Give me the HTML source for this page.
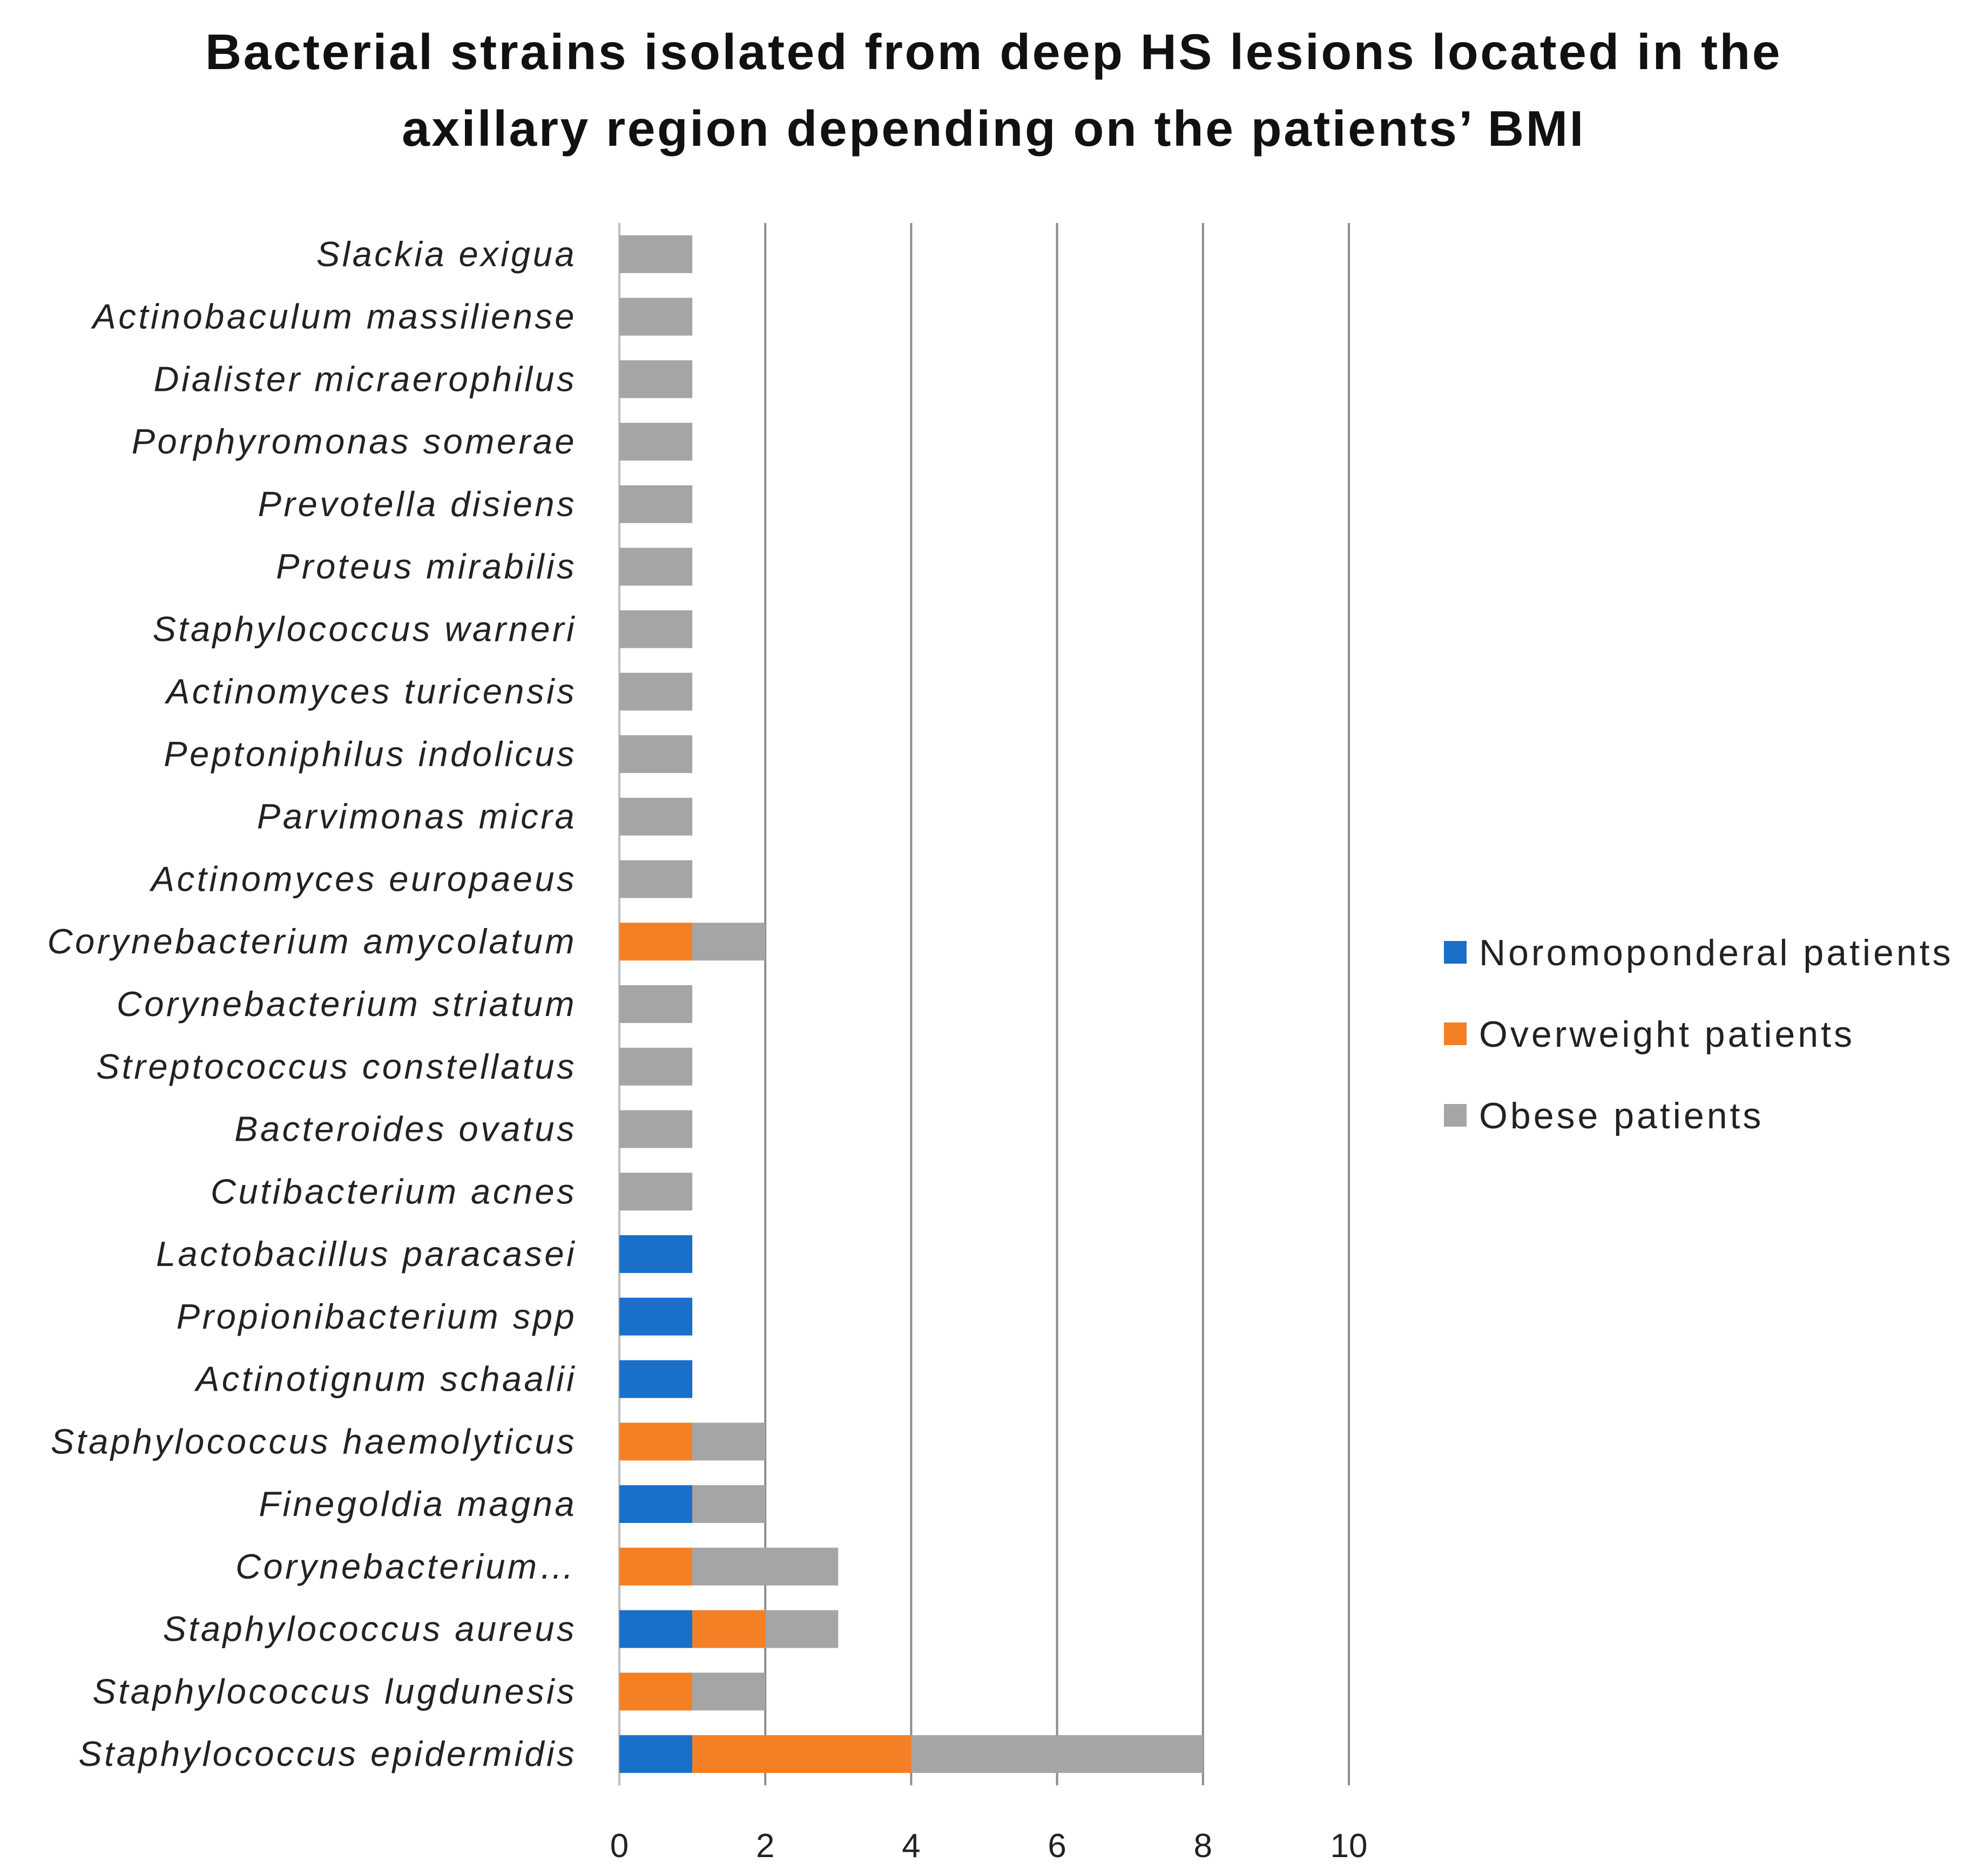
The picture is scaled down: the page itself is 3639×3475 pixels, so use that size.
<!DOCTYPE html>
<html><head><meta charset="utf-8"><style>
body{margin:0;background:#fff}
svg{display:block}
</style></head><body>
<svg id="chart" width="3639" height="3475" xmlns="http://www.w3.org/2000/svg">
<rect width="3639" height="3475" fill="#fff"/>
<text x="1840" y="128" text-anchor="middle" font-family="Liberation Sans, sans-serif" font-weight="bold" font-size="93" letter-spacing="3.5" fill="#111">Bacterial strains isolated from deep HS lesions located in the</text>
<text x="1840" y="270" text-anchor="middle" font-family="Liberation Sans, sans-serif" font-weight="bold" font-size="93" letter-spacing="3.5" fill="#111">axillary region depending on the patients’ BMI</text>
<g id="grid"></g><g id="bars"></g><g id="labels"></g><g id="ticks"></g>
<g id="legend"></g>
</svg>
<script>
const categories=["Slackia exigua","Actinobaculum massiliense","Dialister micraerophilus","Porphyromonas somerae","Prevotella disiens","Proteus mirabilis","Staphylococcus warneri","Actinomyces turicensis","Peptoniphilus indolicus","Parvimonas micra","Actinomyces europaeus","Corynebacterium amycolatum","Corynebacterium striatum","Streptococcus constellatus","Bacteroides ovatus","Cutibacterium acnes","Lactobacillus paracasei","Propionibacterium spp","Actinotignum schaalii","Staphylococcus haemolyticus","Finegoldia magna","Corynebacterium…","Staphylococcus aureus","Staphylococcus lugdunesis","Staphylococcus epidermidis"];
const normal=[0,0,0,0,0,0,0,0,0,0,0,0,0,0,0,0,1,1,1,0,1,0,1,0,1];
const overweight=[0,0,0,0,0,0,0,0,0,0,0,1,0,0,0,0,0,0,0,1,0,1,1,1,3];
const obese=[1,1,1,1,1,1,1,1,1,1,1,1,1,1,1,1,0,0,0,1,1,2,1,1,4];
const ticks=[0,2,4,6,8,10];
const seriesNames=["Noromoponderal patients","Overweight patients","Obese patients"];
const colors=["#1a6fc9","#f57f25","#a5a5a5"];
const X0=1147,UNIT=135.1,TOP=413,BOT=3307;
const band=(BOT-TOP)/categories.length,BH=70;
const x=v=>X0+v*UNIT;
const y=i=>TOP+band*(i+0.5);
const NS="http://www.w3.org/2000/svg";
function mk(t,a,p){const e=document.createElementNS(NS,t);for(const k in a)e.setAttribute(k,a[k]);p.appendChild(e);return e;}
const G=document.getElementById('grid'),B=document.getElementById('bars'),L=document.getElementById('labels'),T=document.getElementById('ticks'),LG=document.getElementById('legend');
ticks.forEach(t=>{
 const l=mk('line',{x1:x(t),x2:x(t),y1:TOP,y2:BOT,stroke:t===0?'#bfbfbf':'#8c8c8c','stroke-width':4},G);
 
 
 const tx=mk('text',{x:x(t),y:3440,'text-anchor':'middle','font-family':'Liberation Sans, sans-serif','font-size':62,fill:'#222'},T);
 tx.textContent=t;
 
 
});
categories.forEach((c,i)=>{
 const vals=[normal[i],overweight[i],obese[i]];let acc=0;
 vals.forEach((v,s)=>{
  if(v>0){const r=mk('rect',{x:x(acc),y:y(i)-BH/2,width:v*UNIT,height:BH,fill:colors[s]},B);
  
  }
  acc+=v;
 });
 const t=mk('text',{x:1068,y:y(i)+22,'text-anchor':'end','font-family':'Liberation Sans, sans-serif','font-style':'italic','font-size':65,'letter-spacing':4.5,fill:'#222'},L);
 t.textContent=c;
 
 
});
seriesNames.forEach((n,s)=>{
 const yy=1764+s*151;
 const r=mk('rect',{x:2674,y:yy-21,width:42,height:42,fill:colors[s]},LG);
 
 
 const t=mk('text',{x:2739,y:yy+24,'font-family':'Liberation Sans, sans-serif','font-size':68,'letter-spacing':5,fill:'#222'},LG);
 t.textContent=n;
 
 
});
</script>
</body></html>
